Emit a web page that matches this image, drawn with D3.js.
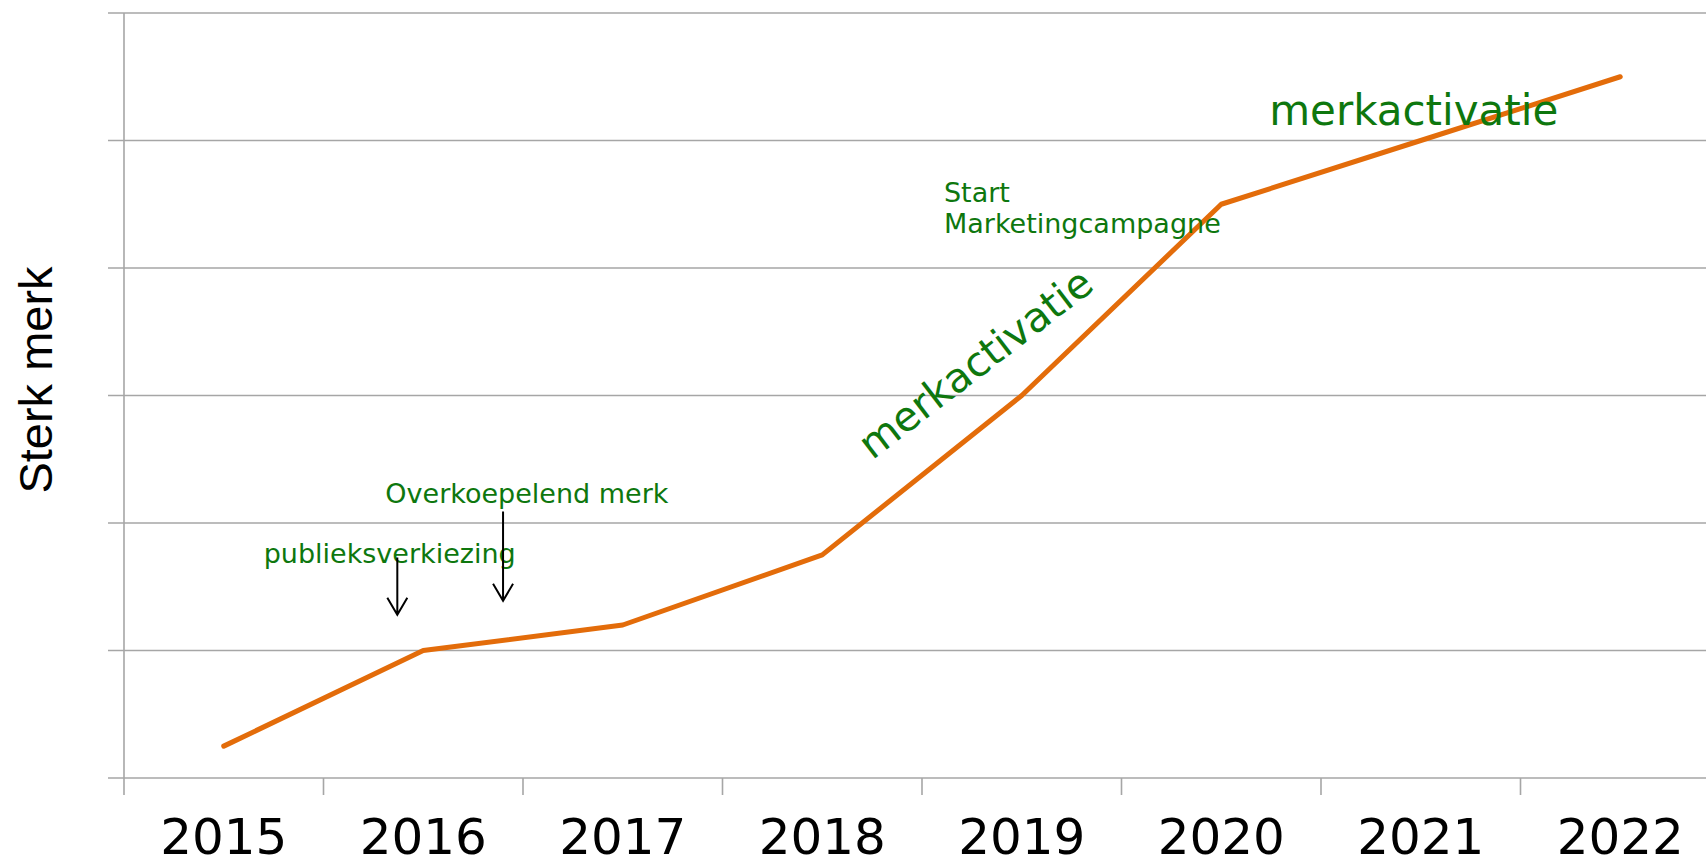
<!DOCTYPE html>
<html>
<head>
<meta charset="utf-8">
<script src="https://cdn.jsdelivr.net/npm/d3@7"></script>
<style>
  html, body { margin: 0; padding: 0; background: #fff; overflow: hidden; }
  svg { display: block; }
</style>
</head>
<body>
<svg id="chart"></svg>
<script>
// data
const years = ["2015", "2016", "2017", "2018", "2019", "2020", "2021", "2022"];
const strength = [0.25, 1.0, 1.2, 1.75, 3.0, 4.5, 5.0, 5.5];
const yTicks = [0, 1, 2, 3, 4, 5, 6];
const yTitle = "Sterk merk";

// annotations, positioned in data units (fractional year, value)
const notes = [
  { text: ["publieksverkiezing"], year: 2015.2, value: 1.69, size: 27, angle: 0 },
  { text: ["Overkoepelend merk"], year: 2015.81, value: 2.16, size: 27, angle: 0 },
  { text: ["Start", "Marketingcampagne"], year: 2018.61, value: 4.52, size: 27, angle: 0 },
  { text: ["merkactivatie"], year: 2018.25, value: 2.49, size: 41, angle: -37.5 },
  { text: ["merkactivatie"], year: 2020.24, value: 5.12, size: 42, angle: 0 }
];
const arrows = [
  { year: 2015.87, from: 1.73, to: 1.28 },
  { year: 2016.4, from: 2.09, to: 1.39 }
];

const W = 1706, H = 866;
const marginLeft = 124, axisBottom = 778, plotTop = 13;

const svg = d3.select("#chart").attr("width", W).attr("height", H);

const x = d3.scaleBand().domain(years).range([marginLeft, marginLeft + 8 * 199.5]).padding(0);
const xc = d => x(d) + x.bandwidth() / 2;
// continuous year scale for annotations
const xYear = d3.scaleLinear().domain([2015, 2016]).range([xc("2015"), xc("2016")]);
const y = d3.scaleLinear().domain([0, 6]).range([axisBottom, plotTop]);

const gridColor = "#a6a6a6";

// horizontal gridlines
svg.append("g")
  .selectAll("line")
  .data(yTicks)
  .join("line")
  .attr("x1", marginLeft - 16)
  .attr("x2", W)
  .attr("y1", d => y(d))
  .attr("y2", d => y(d))
  .attr("stroke", gridColor)
  .attr("stroke-width", 1.6);

// vertical axis line
svg.append("line")
  .attr("x1", marginLeft).attr("x2", marginLeft)
  .attr("y1", y(6)).attr("y2", axisBottom + 17)
  .attr("stroke", gridColor)
  .attr("stroke-width", 1.6);

// x tick marks on band boundaries
svg.append("g")
  .selectAll("line")
  .data(years.slice(1))
  .join("line")
  .attr("x1", d => x(d)).attr("x2", d => x(d))
  .attr("y1", axisBottom).attr("y2", axisBottom + 17)
  .attr("stroke", gridColor)
  .attr("stroke-width", 1.6);

// x labels
const xAxis = d3.axisBottom(x).tickSize(0);
const gx = svg.append("g")
  .attr("transform", `translate(0,${axisBottom})`)
  .call(xAxis);
gx.select(".domain").remove();
gx.selectAll("text")
  .attr("y", 76)
  .attr("dy", null)
  .attr("fill", "#000")
  .style("font-family", "'DejaVu Sans', Verdana, sans-serif")
  .style("font-size", "50px");

// y title
svg.append("text")
  .attr("transform", `translate(52,380) rotate(-90)`)
  .attr("text-anchor", "middle")
  .style("font-family", "'Liberation Sans', Arial, sans-serif")
  .style("font-size", "47px")
  .attr("fill", "#000")
  .text(yTitle);

// the line
const line = d3.line()
  .x((d, i) => xc(years[i]))
  .y(d => y(d));

svg.append("path")
  .datum(strength)
  .attr("d", line)
  .attr("fill", "none")
  .attr("stroke", "#e36c0a")
  .attr("stroke-width", 5)
  .attr("stroke-linejoin", "round")
  .attr("stroke-linecap", "round");

// annotation texts
const green = "#0e770e";
notes.forEach(n => {
  const t = svg.append("text")
    .attr("transform", `translate(${xYear(n.year)},${y(n.value)}) rotate(${n.angle})`)
    .attr("fill", green)
    .style("font-family", "'DejaVu Sans', Verdana, sans-serif")
    .style("font-size", n.size + "px");
  n.text.forEach((s, i) => {
    t.append("tspan")
      .attr("x", 0)
      .attr("dy", i === 0 ? 0 : 31.6)
      .text(s);
  });
});

// arrows
const ag = svg.append("g")
  .attr("stroke", "#000")
  .attr("stroke-width", 2)
  .attr("fill", "none");
arrows.forEach(a => {
  const ax = xYear(a.year), y0 = y(a.from), y1 = y(a.to);
  ag.append("path")
    .attr("d", `M${ax},${y0}L${ax},${y1}M${ax - 10},${y1 - 17}L${ax},${y1}L${ax + 10},${y1 - 17}`);
});
</script>
</body>
</html>
